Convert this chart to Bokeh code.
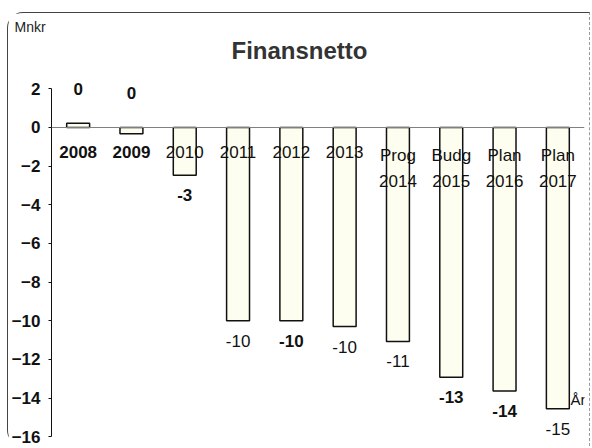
from bokeh.plotting import figure
from bokeh.models import ColumnDataSource, FixedTicker, Span, Label, Title, FactorRange
from bokeh.core.properties import value
from bokeh.embed import file_html
from bokeh.resources import INLINE

# ---- data ----
categories = ["2008", "2009", "2010", "2011", "2012", "2013",
              "Prog\n2014", "Budg\n2015", "Plan\n2016", "Plan\n2017"]
finansnetto = [0.22, -0.33, -2.47, -10.0, -10.0, -10.3, -11.07, -12.92, -13.64, -14.55]
value_labels = ["0", "0", "-3", "-10", "-10", "-10", "-11", "-13", "-14", "-15"]
y_ticks = [2, 0, -2, -4, -6, -8, -10, -12, -14, -16]

# ---- styles ----
cat_styles = ["bold", "bold"] + ["normal"] * 8
val_styles = ["bold", "bold", "bold", "normal", "bold", "normal", "normal", "bold", "bold", "normal"]
FONT = "Liberation Sans"

# label anchor: zero labels above, others below bar end
lbl_y = [max(v, 0) if l == "0" else v for v, l in zip(finansnetto, value_labels)]
lbl_off = [-34 if l == "0" else 20 for l in value_labels]

src = ColumnDataSource(dict(cat=categories, val=finansnetto, lbl=value_labels,
                            lbl_y=lbl_y, lbl_off=lbl_off, zero=[0] * len(categories),
                            cat_style=cat_styles, val_style=val_styles))

p = figure(width=583, height=434, output_backend="svg", toolbar_location=None,
           x_range=FactorRange(*categories), y_range=(-16.3, 3.0),
           x_axis_location=None, min_border_left=42, min_border_right=7,
           min_border_top=56, min_border_bottom=5)
p.styles = {"border-top": "1px solid #444", "border-left": "1px solid #444",
            "border-right": "1px dashed #999",
            "border-radius": "16px 0 0 16px",
            "margin-top": "12px", "margin-left": "7px"}

p.outline_line_color = None
p.grid.visible = False
p.background_fill_color = "white"

# titles (outermost first)
p.title = Title(text="Mnkr", align="left", offset=-37, text_font=FONT,
                text_font_size="14px", text_font_style="normal",
                text_color="#222222", standoff=-11)
p.add_layout(Title(text="Finansnetto", align="left", offset=180,
                   text_font=FONT, text_font_size="24px", text_font_style="bold",
                   text_color="#333333", standoff=11), "above")

# zero line
p.add_layout(Span(location=0, dimension="width", line_color="#808080", line_width=1.2))

# bars: fill first, labels, then outlines on top
p.vbar(x="cat", top="val", bottom="zero", width=0.43, source=src,
       fill_color="#fefef0", line_color=None)
p.text(x="cat", y="zero", text="cat", source=src, text_align="center",
       text_baseline="top", y_offset=19, text_font=value(FONT),
       text_font_size="17px", text_font_style="cat_style", text_color="#111111",
       text_line_height=1.35)
p.vbar(x="cat", top="val", bottom="zero", width=0.43, source=src,
       fill_color=None, line_color="#111111", line_width=1.5)
p.text(x="cat", y="lbl_y", text="lbl", source=src, text_align="center",
       text_baseline="middle", y_offset="lbl_off", text_font=value(FONT),
       text_font_size="17px", text_font_style="val_style", text_color="#111111")

# y axis
ax = p.yaxis[0]
ax.ticker = FixedTicker(ticks=y_ticks)
ax.bounds = (-16, 2)
ax.minor_tick_line_color = None
ax.major_tick_in = 0
ax.major_tick_out = 3
ax.major_label_standoff = 8
ax.axis_line_color = "#111111"
ax.major_tick_line_color = "#111111"
ax.major_label_text_font = FONT
ax.major_label_text_font_size = "17px"
ax.major_label_text_font_style = "bold"
ax.major_label_text_color = "#111111"

# x unit label
p.add_layout(Label(x=519, y=43, x_units="screen", y_units="screen", text="År",
                   text_font=FONT, text_font_size="15px", text_baseline="middle",
                   text_color="#111111"))

open("out.html", "w").write(file_html(p, INLINE))
